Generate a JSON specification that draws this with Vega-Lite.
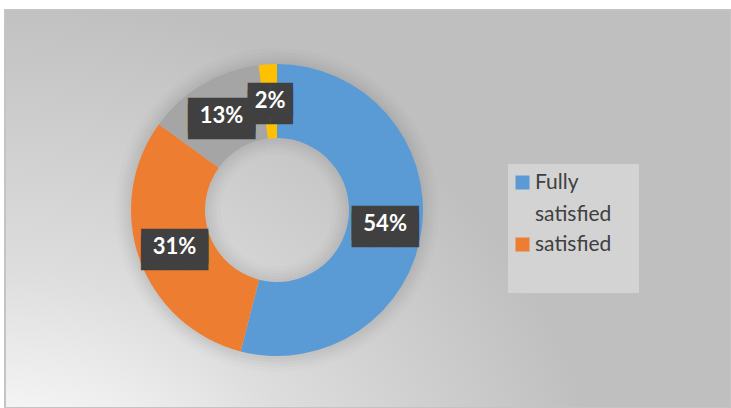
{
  "$schema": "https://vega.github.io/schema/vega-lite/v6.json",
  "width": 726,
  "height": 398,
  "padding": {"left": 5, "top": 10, "right": 0, "bottom": 0},
  "autosize": {"type": "none"},
  "background": "white",
  "config": {
    "view": {
      "fill": {
        "gradient": "radial",
        "x1": 0.0, "y1": 1.05, "r1": 0,
        "x2": 0.0, "y2": 1.05, "r2": 0.85,
        "stops": [
          {"offset": 0, "color": "#ffffff"},
          {"offset": 0.25, "color": "#fbfbfb"},
          {"offset": 0.55, "color": "#dddddd"},
          {"offset": 1, "color": "#bfbfbf"}
        ]
      },
      "stroke": "#c4c4c4",
      "strokeWidth": 2
    }
  },
  "data": {
    "values": [
      {"category": "Fully satisfied", "value": 54, "label": "54%", "order": 1},
      {"category": "satisfied", "value": 31, "label": "31%", "order": 2},
      {"category": "neutral", "value": 13, "label": "13%", "order": 3},
      {"category": "dissatisfied", "value": 2, "label": "2%", "order": 4}
    ]
  },
  "encoding": {
    "theta": {"field": "value", "type": "quantitative", "stack": true},
    "order": {"field": "order", "type": "quantitative"},
    "x": {"datum": 0, "type": "quantitative", "scale": {"domain": [-272, 454]}, "axis": null},
    "y": {"datum": 0, "type": "quantitative", "scale": {"domain": [-198, 200]}, "axis": null}
  },
  "layer": [
    {
      "mark": {"type": "arc", "outerRadius": 162, "innerRadius": 56, "color": "#000000", "opacity": 0.012},
      "encoding": {"detail": {"field": "category"}}
    },
    {
      "mark": {"type": "arc", "outerRadius": 158, "innerRadius": 60, "color": "#000000", "opacity": 0.014},
      "encoding": {"detail": {"field": "category"}}
    },
    {
      "mark": {"type": "arc", "outerRadius": 155, "innerRadius": 63, "color": "#000000", "opacity": 0.016},
      "encoding": {"detail": {"field": "category"}}
    },
    {
      "mark": {"type": "arc", "outerRadius": 152, "innerRadius": 66, "color": "#000000", "opacity": 0.018},
      "encoding": {"detail": {"field": "category"}}
    },
    {
      "mark": {"type": "arc", "outerRadius": 149, "innerRadius": 69, "color": "#000000", "opacity": 0.02},
      "encoding": {"detail": {"field": "category"}}
    },
    {
      "mark": {"type": "arc", "outerRadius": 146, "innerRadius": 72},
      "encoding": {
        "color": {
          "field": "category",
          "type": "nominal",
          "scale": {
            "domain": ["Fully satisfied", "satisfied", "neutral", "dissatisfied"],
            "range": ["#5B9BD5", "#ED7D31", "#A5A5A5", "#FFC000"]
          },
          "legend": {
            "values": ["Fully satisfied", "satisfied", "neutral"],
            "orient": "none",
            "legendX": 503,
            "legendY": 154,
            "title": null,
            "symbolType": "square",
            "symbolSize": 196,
            "symbolStrokeWidth": 0,
            "symbolOpacity": 1,
            "symbolOffset": -4,
            "labelFont": "Lato",
            "labelFontSize": 21,
            "labelColor": "#404040",
            "labelLimit": 200,
            "labelOffset": 2,
            "fillColor": "#d3d3d3",
            "padding": 8,
            "rowPadding": 8,
            "labelBaseline": "middle",
            "labelExpr": "datum.label == 'Fully satisfied' ? ['Fully', 'satisfied'] : datum.label == 'neutral' ? 'satisfiedsa' : datum.label",
            "encode": {
              "labels": {"update": {"lineHeight": {"value": 32}, "opacity": {"signal": "datum.value == 'neutral' ? 0 : 1"}}},
              "symbols": {"update": {"opacity": {"signal": "datum.value == 'neutral' ? 0 : 1"}}}
            }
          }
        }
      }
    },
    {
      "transform": [{"calculate": "length(datum.label) > 2 ? ['███', '███'] : ['██', '██']", "as": "box"}],
      "mark": {"type": "text", "radius": 109, "font": "DejaVu Sans", "fontSize": 29, "lineHeight": 7, "color": "#404040", "align": "center", "baseline": "middle"},
      "encoding": {"text": {"field": "box"}, "detail": {"field": "category"}}
    },
    {
      "mark": {"type": "text", "radius": 109, "font": "Lato", "fontWeight": "bold", "fontSize": 22, "color": "white", "align": "center", "baseline": "middle"},
      "encoding": {"text": {"field": "label"}, "detail": {"field": "category"}}
    }
  ]
}
